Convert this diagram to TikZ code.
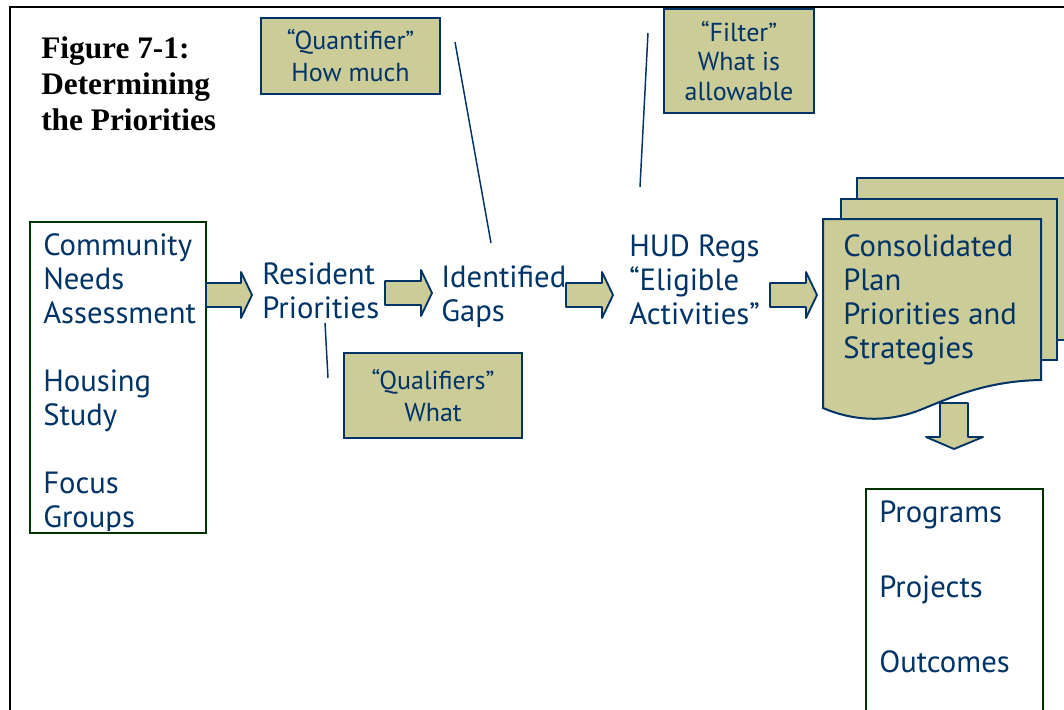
\documentclass[tikz,border=0pt]{standalone}
\usepackage{fontspec}
\setmainfont{PT Sans}
\newfontfamily\titlefont{Liberation Serif}
\usetikzlibrary{calc}

\definecolor{hudblue}{RGB}{0,51,102}
\definecolor{hudtan}{RGB}{204,204,153}
\definecolor{hudgreen}{RGB}{0,51,0}

\tikzset{
  maintext/.style={inner sep=0.75pt, align=left, text=hudblue, font=\fontsize{23}{25.5}\selectfont},
  callout/.style={draw=hudblue, line width=1.5pt, fill=hudtan, inner sep=0.75pt, outer sep=0pt, align=center, text=hudblue, font=\fontsize{19.5}{24}\selectfont},
  greenbox/.style={draw=hudgreen, line width=1.4pt, inner sep=0pt, outer sep=0pt},
  leader/.style={draw=hudblue, line width=1.1pt},
  arrowfill/.style={draw=hudblue, line width=1.4pt, fill=hudtan, line join=round},
  docpage/.style={draw=hudblue, line width=1.5pt, fill=hudtan}
}

% block arrow from a start point to its tip
\newcommand{\fatarrow}[2]{\draw [arrowfill] ($(#1)+(0,-12)$) -- ($(#2)+(-11,-12)$) -- ($(#2)+(-11,-23)$) -- (#2) -- ($(#2)+(-11,23)$) -- ($(#2)+(-11,12)$) -- ($(#1)+(0,12)$) -- cycle ;}

\begin{document}
\begin{tikzpicture}[x=0.75pt,y=0.75pt,yscale=-1,xscale=1]
\useasboundingbox (0,0) rectangle (1064,710);

%Shape: Frame
\draw [line width=1.2pt] (10,720) -- (10,7) -- (1075,7) ;

% Text Node (base = last line)
\node (title) [anchor=base west, inner sep=0.75pt, align=left, font=\titlefont\bfseries\fontsize{23.5}{27}\selectfont] at (40,130) {Figure 7-1:\\Determining\\the Priorities};

%Shape: Rectangle (sources)
\begin{scope}
\clip (30,222) rectangle (206,530);
\node (sources) [maintext, anchor=base west] at (42,527) {Community\\Needs\\Assessment\\[25.5pt]Housing\\Study\\[25.5pt]Focus\\Groups};
\end{scope}
\node (sourcebox) [greenbox, anchor=north west, minimum width=132pt, minimum height=233.25pt] at (30,222) {};

% Text Node
\node (resident) [maintext, anchor=base west] at (261,318) {Resident\\Priorities};
\node (gaps) [maintext, anchor=base west] at (440,321) {Identified\\Gaps};
\node (hud) [maintext, anchor=base west] at (628,324) {HUD Regs\\“Eligible\\Activities”};

%Shape: Block arrows
\coordinate (a1s) at (206,295); \coordinate (a1t) at (252,295);
\coordinate (a2s) at (385,293); \coordinate (a2t) at (432,293);
\coordinate (a3s) at (566,295); \coordinate (a3t) at (613,295);
\coordinate (a4s) at (770,295); \coordinate (a4t) at (817,295);
\fatarrow{a1s}{a1t}
\fatarrow{a2s}{a2t}
\fatarrow{a3s}{a3t}
\fatarrow{a4s}{a4t}

%Shape: Document stack
\draw [docpage] (857,178) rectangle (1075,340) ;
\draw [docpage] (841,199) rectangle (1057,360) ;
\draw [docpage] (823,219) -- (1041,219) -- (1041,380) .. controls (985,381) and (950,398) .. (920,410) .. controls (895,420) and (860,424) .. (823,408) -- cycle ;
\node (plan) [maintext, anchor=base west] at (842,358) {Consolidated\\Plan\\Priorities and\\Strategies};

%Shape: Down arrow
\coordinate (d1) at (954,403); \coordinate (d2) at (954,449);
\draw [arrowfill] ($(d1)+(-14,0)$) -- ($(d1)+(14,0)$) -- ($(d2)+(14,-12)$) -- ($(d2)+(29,-12)$) -- (d2) -- ($(d2)+(-28,-12)$) -- ($(d2)+(-14,-12)$) -- cycle ;

%Shape: Rectangle (outputs)
\node (outbox) [greenbox, anchor=north west, minimum width=132.75pt, minimum height=175pt] at (866,489) {};
\node (outputs) [maintext, anchor=base west] at (878,672) {Programs\\[30.75pt]Projects\\[30.75pt]Outcomes};

%Shape: Callouts
\node (quant) [callout, minimum width=134.25pt, minimum height=57pt] at (350.5,56) {“Quantifier”\\How much};
\node (filter) [callout, minimum width=112.5pt, minimum height=78pt, font=\fontsize{19.5}{22}\selectfont] at (739,61) {“Filter”\\What is\\allowable};
\node (qual) [callout, minimum width=133.5pt, minimum height=63.75pt] at (433,395.5) {“Qualifiers”\\What};

%Shape: Leader lines
\coordinate (q1) at (455,42); \coordinate (q2) at (491,243);
\coordinate (f1) at (648,33); \coordinate (f2) at (640,187);
\coordinate (r1) at (325,323); \coordinate (r2) at (328,378);
\draw [leader] (q1) -- (q2) ;
\draw [leader] (f1) -- (f2) ;
\draw [leader] (r1) -- (r2) ;
\end{tikzpicture}
\end{document}
